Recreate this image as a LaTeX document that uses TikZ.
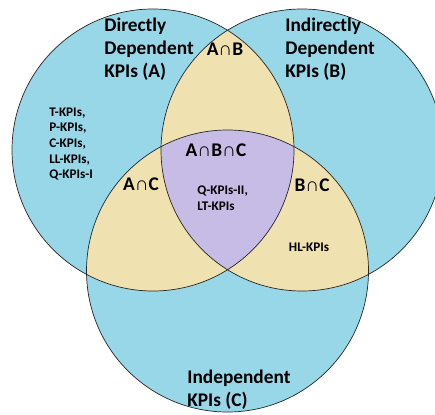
\documentclass[tikz,border=0pt]{standalone}
\usepackage{fontspec}
\setmainfont{Carlito}
\newfontfamily\capfont{Liberation Sans}
\usetikzlibrary{positioning}

\definecolor{setblue}{RGB}{152,215,232}
\definecolor{setyellow}{RGB}{240,226,176}
\definecolor{setpurple}{RGB}{199,188,230}

\newcommand{\ic}{{\capfont\mdseries\char"2229}}

\begin{document}
\begin{tikzpicture}[
    setname/.style={font=\fontsize{11}{13}\selectfont\bfseries, align=left, inner sep=0pt},
    interlabel/.style={font=\fontsize{11}{13}\selectfont\bfseries, inner sep=0pt},
    kpilist/.style={font=\fontsize{7.5}{8.9}\selectfont\bfseries, align=left, inner sep=0pt}
  ]
    \useasboundingbox (0,0) rectangle (8.7,8.28);
    \clip (0,0) rectangle (8.7,8.28);
    % the three sets
    \def\setA{(3.06,5.28) circle[radius=2.82]}
    \def\setB{(6.04,5.28) circle[radius=2.82]}
    \def\setC{(4.55,2.86) circle[radius=2.82]}
    \fill[setblue] \setA;
    \fill[setblue] \setB;
    \fill[setblue] \setC;
    % pairwise overlaps
    \begin{scope}
        \clip \setA;
        \fill[setyellow] \setB;
        \fill[setyellow] \setC;
    \end{scope}
    \begin{scope}
        \clip \setB;
        \fill[setyellow] \setC;
    \end{scope}
    % triple overlap
    \begin{scope}
        \clip \setA;
        \clip \setB;
        \fill[setpurple] \setC;
    \end{scope}
    \draw[thin, black!85] \setA;
    \draw[thin, black!85] \setB;
    \draw[thin, black!85] \setC;

    % labels
    \node[setname, anchor=west] (nameA) at (2.08,7.30) {Directly\\Dependent\\KPIs (A)};
    \node[setname, anchor=west] (nameB) at (5.70,7.30) {Indirectly\\Dependent\\KPIs (B)};
    \node[setname, anchor=west] (nameC) at (3.74,0.48) {Independent\\KPIs (C)};
    \node[interlabel] (ab) at (4.50,7.30) {A\ic B};
    \node[interlabel] (abc) at (4.32,5.28) {A\ic B\ic C};
    \node[interlabel] (ac) at (2.82,4.60) {A\ic C};
    \node[interlabel] (bc) at (6.24,4.58) {B\ic C};
    \node[kpilist, anchor=west] (listA) at (0.98,5.40) {T-KPIs,\\P-KPIs,\\C-KPIs,\\LL-KPIs,\\Q-KPIs-I};
    \node[kpilist, anchor=west] (listABC) at (3.94,4.32) {Q-KPIs-II,\\LT-KPIs};
    \node[kpilist] (listBC) at (6.18,3.34) {HL-KPIs};
\end{tikzpicture}
\end{document}
